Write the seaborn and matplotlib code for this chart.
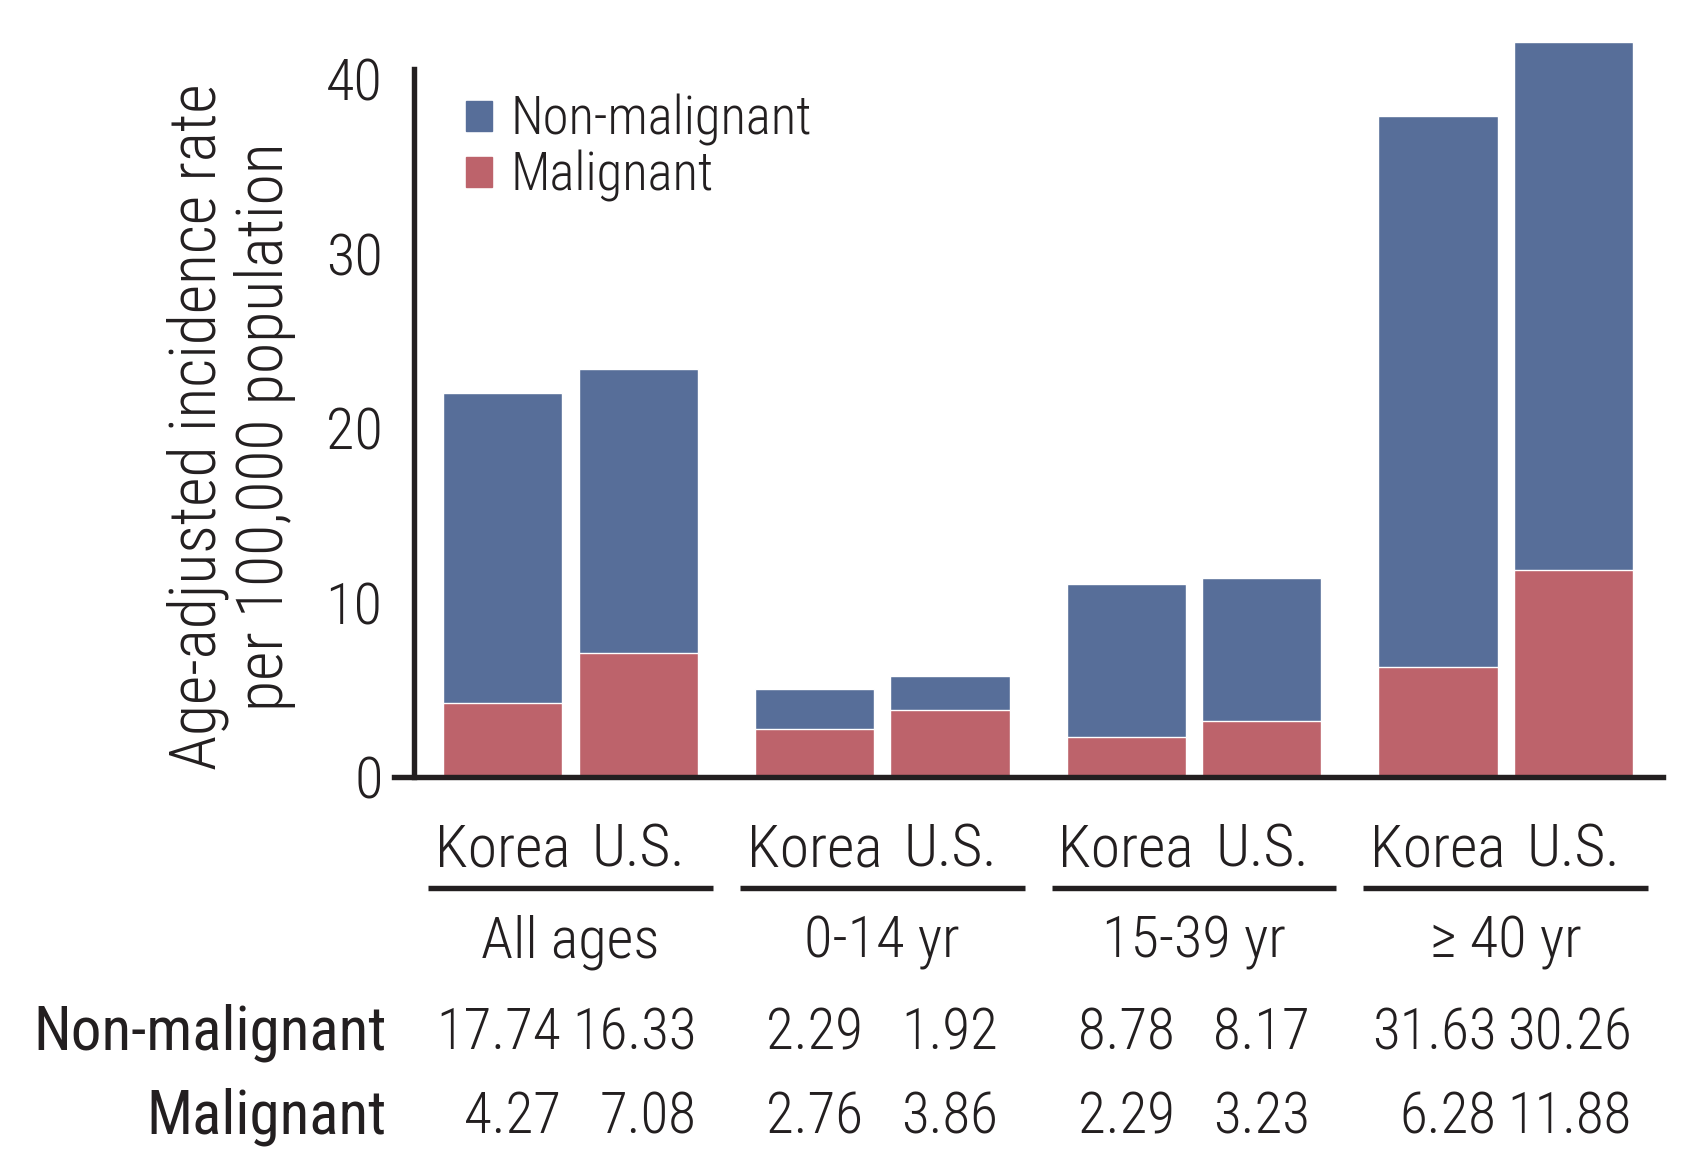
import matplotlib
matplotlib.use("Agg")
import matplotlib.pyplot as plt
from matplotlib import font_manager
from matplotlib.patches import Patch
import seaborn as sns
import pandas as pd

# values
groups = ["All ages", "0-14 yr", "15-39 yr", "\u2265 40 yr"]
countries = ["Korea", "U.S."]
non_malignant = [17.74, 16.33, 2.29, 1.92, 8.78, 8.17, 31.63, 30.26]
malignant = [4.27, 7.08, 2.76, 3.86, 2.29, 3.23, 6.28, 11.88]
y_ticks = [0, 10, 20, 30, 40]

BLUE = "#576e99"
RED = "#bd636b"
INK = "#231f20"

sns.set_style("white")

# the original uses a light condensed sans
names = {f.name for f in font_manager.fontManager.ttflist}
pick = "DejaVu Sans"
for name in ["Roboto Condensed", "Liberation Sans Narrow", "Barlow Condensed",
             "Archivo Narrow"]:
    if name in names:
        pick = name
        break
plt.rcParams["font.family"] = [pick, "DejaVu Sans"]
plt.rcParams["font.stretch"] = "condensed"
plt.rcParams["font.weight"] = "light"
plt.rcParams["text.color"] = INK

gap = 2.3
xpos = [g * gap + c for g in range(len(groups)) for c in range(len(countries))]
df = pd.DataFrame({
    "x": xpos,
    "total": [n + m for n, m in zip(non_malignant, malignant)],
    "malignant": malignant,
})

fig = plt.figure(figsize=(16.93, 11.76), dpi=100)
ax = fig.add_axes([0.2328, 0.3393, 0.7495, 0.6378])

# stacked look: full height in blue, malignant part drawn over it in red
sns.barplot(data=df, x="x", y="total", native_scale=True, width=0.88,
            color=BLUE, saturation=1, errorbar=None, ax=ax)
sns.barplot(data=df, x="x", y="malignant", native_scale=True, width=0.88,
            color=RED, saturation=1, errorbar=None, ax=ax)

ax.set_xlim(-0.8, 8.56)
ax.set_ylim(0, 43)
ax.set_xlabel("")
ax.set_ylabel("")

for s in ["top", "right"]:
    ax.spines[s].set_visible(False)
ax.spines["left"].set_position(("data", -0.65))
ax.spines["left"].set_bounds(0, 40.6)
for s in ["left", "bottom"]:
    ax.spines[s].set_linewidth(3.9)
    ax.spines[s].set_color(INK)

ax.set_yticks(y_ticks)
ax.tick_params(axis="y", length=13, width=3.9, color=INK, labelsize=42,
               pad=10, labelcolor=INK)
seps = [g * gap + 1.65 for g in range(len(groups) - 1)]
ax.set_xticks(seps)
ax.set_xticklabels([])
ax.tick_params(axis="x", length=17, width=3.9, color=INK)

tr = ax.get_xaxis_transform()
for g, grp in enumerate(groups):
    centre = g * gap + 0.5
    for c, country in enumerate(countries):
        ax.text(g * gap + c, -0.120, country, ha="center", va="baseline",
                fontsize=43, transform=tr)
    ax.plot([centre - 1.05, centre + 1.05], [-0.148, -0.148], color=INK,
            lw=3.9, solid_capstyle="butt", transform=tr, clip_on=False)
    ax.text(centre, -0.2413, grp, ha="center", va="baseline", fontsize=42,
            transform=tr)

# numbers table under the groups
ax.text(-0.852, -0.363, "Non-malignant", ha="right", va="baseline",
        fontsize=44, fontweight="normal", transform=tr)
ax.text(-0.852, -0.4747, "Malignant", ha="right", va="baseline",
        fontsize=44, fontweight="normal", transform=tr)
for i, x in enumerate(xpos):
    g = i // 2
    if g in (1, 2):
        xx, ha = x, "center"
    else:
        xx, ha = x + 0.43, "right"
    ax.text(xx, -0.363, f"{non_malignant[i]:.2f}", ha=ha, va="baseline",
            fontsize=41, transform=tr)
    ax.text(xx, -0.4747, f"{malignant[i]:.2f}", ha=ha, va="baseline",
            fontsize=41, transform=tr)

handles = [Patch(color=BLUE, label="Non-malignant"),
           Patch(color=RED, label="Malignant")]
ax.legend(handles=handles, loc="upper left", bbox_to_anchor=(0.275, 0.92),
          bbox_transform=fig.transFigure, frameon=False, fontsize=38,
          handlelength=0.5, handleheight=0.5, handletextpad=0.35,
          labelspacing=0.08, borderpad=0, borderaxespad=0)

fig.text(0.1366, 0.637, "Age-adjusted incidence rate\nper 100,000 population",
         rotation=90, ha="center", va="center", multialignment="center",
         fontsize=46, linespacing=1.1)

fig.savefig("out.png", dpi=100)
